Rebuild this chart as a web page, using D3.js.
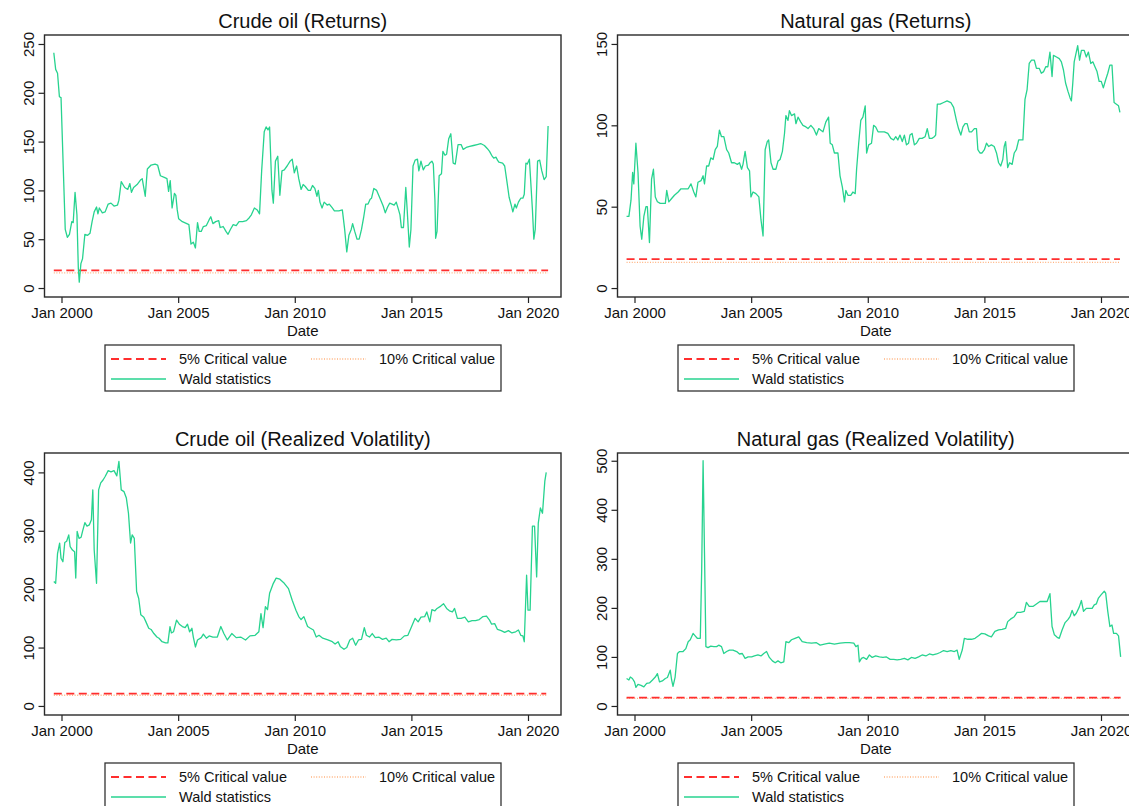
<!DOCTYPE html>
<html>
<head>
<meta charset="utf-8">
<script src="https://cdn.jsdelivr.net/npm/d3@7/dist/d3.min.js"></script>
<style>
  body { margin: 0; background: #fff; }
  svg text { font-family: "Liberation Sans", Arial, Helvetica, sans-serif; fill: #111; }
</style>
</head>
<body>
<svg id="chart" width="1129" height="806"></svg>
<script>
// [decimal year, Wald statistic]
const crudeReturns = [
  [1999.67, 241], [1999.75, 224], [1999.83, 220], [1999.91, 196], [1999.98, 195], [2000.16, 60],
  [2000.25, 52], [2000.34, 55], [2000.44, 68], [2000.50, 67], [2000.58, 98], [2000.66, 75],
  [2000.72, 20], [2000.76, 6], [2000.83, 25], [2000.90, 30], [2001.00, 55], [2001.12, 54],
  [2001.22, 56], [2001.31, 68], [2001.40, 78], [2001.50, 83], [2001.56, 76], [2001.62, 82],
  [2001.75, 77], [2001.87, 78], [2002.00, 86], [2002.12, 87], [2002.25, 84], [2002.40, 85],
  [2002.46, 90], [2002.56, 109], [2002.71, 103], [2002.84, 101], [2002.93, 107], [2003.00, 98],
  [2003.09, 103], [2003.24, 106], [2003.40, 111], [2003.46, 112], [2003.59, 94], [2003.68, 122],
  [2003.84, 126], [2004.01, 127], [2004.12, 126], [2004.24, 115], [2004.43, 113], [2004.52, 112],
  [2004.59, 99], [2004.66, 110], [2004.74, 82], [2004.84, 97], [2004.90, 95], [2004.96, 80],
  [2005.02, 71], [2005.18, 68], [2005.37, 66], [2005.46, 65], [2005.55, 45], [2005.65, 47],
  [2005.74, 41], [2005.83, 67], [2005.90, 58], [2005.99, 58], [2006.08, 63], [2006.21, 64],
  [2006.33, 70], [2006.40, 73], [2006.49, 66], [2006.61, 68], [2006.74, 69], [2006.80, 62],
  [2006.93, 63], [2007.05, 58], [2007.14, 55], [2007.24, 60], [2007.36, 65], [2007.49, 64],
  [2007.61, 68], [2007.77, 68], [2007.93, 69], [2008.05, 72], [2008.14, 75], [2008.27, 82],
  [2008.39, 80], [2008.49, 76], [2008.58, 120], [2008.69, 160], [2008.77, 165], [2008.85, 162],
  [2008.92, 165], [2009.02, 100], [2009.08, 87], [2009.17, 130], [2009.27, 135], [2009.36, 95],
  [2009.45, 120], [2009.55, 121], [2009.67, 125], [2009.80, 130], [2009.89, 132], [2009.98, 118],
  [2010.08, 125], [2010.17, 112], [2010.27, 101], [2010.36, 106], [2010.45, 104], [2010.58, 100],
  [2010.67, 100], [2010.76, 105], [2010.86, 102], [2010.95, 94], [2011.01, 100], [2011.08, 88],
  [2011.17, 82], [2011.26, 88], [2011.39, 85], [2011.48, 86], [2011.61, 82], [2011.70, 79],
  [2011.89, 79], [2012.04, 80], [2012.14, 60], [2012.23, 37], [2012.32, 54], [2012.42, 60],
  [2012.48, 66], [2012.57, 58], [2012.67, 50], [2012.76, 50], [2012.86, 60], [2012.95, 72],
  [2013.04, 86], [2013.14, 86], [2013.23, 91], [2013.29, 92], [2013.39, 102], [2013.51, 100],
  [2013.67, 91], [2013.79, 84], [2013.88, 77], [2013.98, 83], [2014.07, 87], [2014.17, 86],
  [2014.26, 85], [2014.35, 88], [2014.45, 80], [2014.51, 75], [2014.57, 62], [2014.66, 62],
  [2014.76, 103], [2014.82, 80], [2014.91, 42], [2014.98, 60], [2015.07, 125], [2015.16, 131],
  [2015.26, 132], [2015.32, 120], [2015.41, 130], [2015.51, 121], [2015.60, 125], [2015.73, 126],
  [2015.79, 128], [2015.88, 130], [2015.94, 127], [2016.01, 90], [2016.04, 51], [2016.10, 58],
  [2016.19, 115], [2016.29, 117], [2016.35, 140], [2016.44, 136], [2016.51, 137], [2016.60, 153],
  [2016.69, 158], [2016.79, 128], [2016.88, 127], [2017.00, 147], [2017.13, 147], [2017.22, 142],
  [2017.35, 144], [2017.50, 145], [2017.66, 146], [2017.82, 147], [2017.97, 148], [2018.13, 146],
  [2018.25, 143], [2018.35, 140], [2018.44, 136], [2018.53, 133], [2018.63, 134], [2018.69, 131],
  [2018.75, 129], [2018.91, 128], [2019.00, 125], [2019.09, 110], [2019.19, 93], [2019.28, 85],
  [2019.35, 78], [2019.44, 86], [2019.50, 82], [2019.59, 88], [2019.69, 92], [2019.78, 92],
  [2019.84, 96], [2019.91, 128], [2019.97, 127], [2020.06, 132], [2020.19, 80], [2020.25, 50],
  [2020.31, 60], [2020.41, 130], [2020.50, 131], [2020.59, 120], [2020.69, 111], [2020.78, 114],
  [2020.86, 166]
];

const gasReturns = [
  [1999.66, 44], [1999.76, 44], [1999.85, 54], [1999.92, 71], [1999.97, 64], [2000.06, 89],
  [2000.15, 71], [2000.24, 38], [2000.31, 30], [2000.40, 44], [2000.49, 50], [2000.55, 50],
  [2000.64, 28], [2000.73, 67], [2000.81, 73], [2000.89, 56], [2000.98, 53], [2001.10, 52],
  [2001.22, 52], [2001.32, 52], [2001.38, 60], [2001.47, 53], [2001.59, 55], [2001.71, 57],
  [2001.87, 59], [2001.99, 61], [2002.14, 61], [2002.30, 61], [2002.42, 64], [2002.54, 59],
  [2002.63, 56], [2002.72, 65], [2002.85, 66], [2002.94, 69], [2003.00, 64], [2003.09, 75],
  [2003.18, 75], [2003.27, 80], [2003.37, 79], [2003.46, 85], [2003.55, 87], [2003.64, 97],
  [2003.73, 93], [2003.83, 93], [2003.95, 85], [2004.04, 83], [2004.16, 77], [2004.28, 77],
  [2004.41, 76], [2004.50, 77], [2004.59, 73], [2004.65, 76], [2004.74, 84], [2004.84, 74],
  [2004.93, 72], [2004.99, 56], [2005.08, 59], [2005.20, 58], [2005.33, 56], [2005.42, 42],
  [2005.51, 32], [2005.60, 85], [2005.69, 90], [2005.75, 91], [2005.85, 77], [2005.94, 73],
  [2006.06, 73], [2006.15, 78], [2006.24, 79], [2006.34, 84], [2006.43, 95], [2006.49, 106],
  [2006.58, 103], [2006.64, 109], [2006.73, 106], [2006.86, 107], [2006.92, 101], [2007.01, 105],
  [2007.13, 102], [2007.22, 100], [2007.35, 99], [2007.44, 98], [2007.56, 100], [2007.68, 98],
  [2007.80, 94], [2007.90, 98], [2007.99, 97], [2008.08, 96], [2008.20, 102], [2008.32, 105],
  [2008.39, 89], [2008.48, 88], [2008.57, 83], [2008.66, 83], [2008.72, 83], [2008.81, 69],
  [2008.91, 62], [2009.00, 53], [2009.06, 60], [2009.15, 57], [2009.27, 57], [2009.36, 59],
  [2009.46, 58], [2009.52, 73], [2009.61, 89], [2009.70, 103], [2009.79, 105], [2009.89, 112],
  [2009.95, 83], [2010.04, 88], [2010.16, 89], [2010.25, 100], [2010.34, 99], [2010.44, 96],
  [2010.56, 96], [2010.71, 96], [2010.86, 95], [2010.99, 92], [2011.11, 91], [2011.20, 93],
  [2011.29, 91], [2011.38, 94], [2011.48, 90], [2011.57, 94], [2011.66, 88], [2011.75, 89],
  [2011.81, 94], [2011.90, 95], [2012.00, 88], [2012.09, 89], [2012.21, 92], [2012.33, 92],
  [2012.46, 93], [2012.55, 98], [2012.64, 92], [2012.76, 92], [2012.85, 93], [2012.91, 94],
  [2012.98, 113], [2013.10, 113], [2013.25, 114], [2013.40, 115], [2013.56, 114], [2013.68, 111],
  [2013.80, 103], [2013.89, 98], [2013.99, 94], [2014.08, 99], [2014.17, 101], [2014.26, 101],
  [2014.35, 96], [2014.45, 96], [2014.57, 98], [2014.66, 98], [2014.72, 85], [2014.81, 83],
  [2014.90, 83], [2015.00, 85], [2015.09, 89], [2015.18, 87], [2015.30, 88], [2015.42, 87],
  [2015.52, 83], [2015.61, 77], [2015.70, 75], [2015.79, 79], [2015.85, 87], [2015.91, 90],
  [2016.00, 74], [2016.08, 77], [2016.19, 76], [2016.28, 83], [2016.37, 85], [2016.47, 91],
  [2016.56, 91], [2016.65, 91], [2016.74, 116], [2016.83, 122], [2016.92, 138], [2017.02, 140],
  [2017.14, 140], [2017.23, 135], [2017.35, 135], [2017.44, 132], [2017.54, 133], [2017.63, 136],
  [2017.72, 136], [2017.81, 145], [2017.90, 130], [2017.96, 143], [2018.09, 142], [2018.21, 141],
  [2018.30, 139], [2018.39, 134], [2018.48, 126], [2018.58, 121], [2018.67, 117], [2018.73, 115],
  [2018.79, 126], [2018.85, 139], [2018.91, 143], [2019.00, 149], [2019.08, 140], [2019.16, 146],
  [2019.28, 146], [2019.37, 142], [2019.46, 145], [2019.56, 138], [2019.65, 139], [2019.74, 136],
  [2019.83, 133], [2019.92, 127], [2020.01, 127], [2020.10, 123], [2020.20, 128], [2020.29, 132],
  [2020.38, 137], [2020.47, 137], [2020.56, 114], [2020.66, 113], [2020.75, 112], [2020.81, 108]
];

const crudeVolatility = [
  [1999.67, 213], [1999.75, 210], [1999.83, 261], [1999.92, 279], [1999.98, 253], [2000.06, 247],
  [2000.14, 280], [2000.22, 282], [2000.31, 293], [2000.37, 273], [2000.47, 267], [2000.56, 264],
  [2000.61, 219], [2000.67, 299], [2000.75, 287], [2000.84, 289], [2000.90, 299], [2001.00, 314],
  [2001.09, 308], [2001.19, 310], [2001.28, 319], [2001.34, 370], [2001.40, 267], [2001.50, 210],
  [2001.59, 370], [2001.68, 382], [2001.78, 387], [2001.87, 393], [2002.00, 403], [2002.12, 401],
  [2002.25, 403], [2002.37, 394], [2002.46, 419], [2002.56, 370], [2002.68, 367], [2002.78, 356],
  [2002.87, 330], [2002.96, 279], [2003.03, 293], [2003.12, 287], [2003.22, 196], [2003.31, 184],
  [2003.40, 156], [2003.53, 152], [2003.62, 144], [2003.74, 133], [2003.84, 131], [2003.96, 124],
  [2004.09, 118], [2004.18, 116], [2004.31, 110], [2004.46, 108], [2004.56, 108], [2004.65, 136],
  [2004.71, 125], [2004.80, 127], [2004.93, 147], [2005.05, 140], [2005.18, 136], [2005.30, 134],
  [2005.40, 140], [2005.49, 127], [2005.59, 133], [2005.65, 118], [2005.74, 101], [2005.83, 113],
  [2005.99, 117], [2006.08, 123], [2006.21, 116], [2006.33, 120], [2006.49, 118], [2006.68, 118],
  [2006.83, 136], [2006.96, 124], [2007.11, 113], [2007.30, 124], [2007.49, 117], [2007.68, 118],
  [2007.89, 113], [2008.08, 120], [2008.30, 121], [2008.46, 127], [2008.55, 158], [2008.64, 134],
  [2008.74, 170], [2008.83, 165], [2008.92, 193], [2009.08, 210], [2009.20, 219], [2009.36, 217],
  [2009.55, 210], [2009.73, 201], [2009.89, 181], [2010.05, 164], [2010.17, 153], [2010.27, 148],
  [2010.39, 153], [2010.55, 136], [2010.67, 133], [2010.80, 130], [2010.92, 118], [2011.04, 121],
  [2011.20, 116], [2011.42, 113], [2011.61, 110], [2011.73, 106], [2011.86, 110], [2011.95, 102],
  [2012.11, 97], [2012.23, 100], [2012.36, 113], [2012.48, 116], [2012.61, 104], [2012.73, 113],
  [2012.86, 114], [2012.98, 134], [2013.07, 121], [2013.20, 118], [2013.32, 124], [2013.45, 117],
  [2013.60, 118], [2013.76, 114], [2013.92, 116], [2014.04, 110], [2014.17, 114], [2014.35, 113],
  [2014.54, 114], [2014.70, 120], [2014.85, 121], [2015.01, 136], [2015.16, 150], [2015.29, 144],
  [2015.41, 152], [2015.57, 153], [2015.66, 161], [2015.79, 144], [2015.88, 165], [2016.01, 163],
  [2016.10, 167], [2016.26, 171], [2016.38, 175], [2016.51, 167], [2016.63, 163], [2016.76, 161],
  [2016.85, 167], [2016.97, 150], [2017.13, 150], [2017.29, 152], [2017.44, 144], [2017.60, 146],
  [2017.75, 146], [2017.91, 148], [2018.07, 153], [2018.22, 154], [2018.35, 147], [2018.44, 140],
  [2018.57, 141], [2018.69, 131], [2018.85, 129], [2019.00, 126], [2019.16, 129], [2019.31, 125],
  [2019.47, 127], [2019.59, 130], [2019.69, 121], [2019.78, 120], [2019.84, 110], [2019.94, 224],
  [2020.00, 164], [2020.09, 164], [2020.19, 308], [2020.28, 308], [2020.37, 221], [2020.44, 313],
  [2020.53, 339], [2020.62, 330], [2020.72, 385], [2020.78, 400]
];

const gasVolatility = [
  [1999.66, 56], [1999.76, 53], [1999.82, 59], [1999.91, 56], [2000.00, 49], [2000.06, 38],
  [2000.15, 44], [2000.28, 42], [2000.40, 39], [2000.52, 46], [2000.64, 47], [2000.77, 53],
  [2000.89, 59], [2000.98, 66], [2001.07, 49], [2001.19, 51], [2001.32, 56], [2001.41, 58],
  [2001.53, 73], [2001.59, 53], [2001.65, 40], [2001.74, 59], [2001.84, 107], [2001.93, 111],
  [2002.08, 111], [2002.20, 117], [2002.30, 131], [2002.39, 135], [2002.51, 148], [2002.60, 143],
  [2002.69, 138], [2002.82, 138], [2002.88, 278], [2002.94, 500], [2003.00, 312], [2003.06, 121],
  [2003.15, 119], [2003.27, 122], [2003.40, 121], [2003.52, 121], [2003.61, 124], [2003.73, 121],
  [2003.83, 107], [2003.95, 111], [2004.07, 114], [2004.22, 114], [2004.38, 111], [2004.50, 106],
  [2004.62, 107], [2004.74, 97], [2004.87, 100], [2005.02, 100], [2005.14, 102], [2005.29, 104],
  [2005.42, 102], [2005.54, 107], [2005.66, 111], [2005.78, 99], [2005.91, 92], [2006.03, 88],
  [2006.15, 92], [2006.27, 88], [2006.40, 90], [2006.49, 131], [2006.61, 129], [2006.73, 135],
  [2006.88, 138], [2007.04, 141], [2007.19, 131], [2007.38, 129], [2007.59, 128], [2007.80, 129],
  [2007.96, 124], [2008.14, 126], [2008.35, 128], [2008.57, 126], [2008.81, 128], [2009.03, 129],
  [2009.21, 129], [2009.40, 128], [2009.49, 121], [2009.58, 124], [2009.64, 90], [2009.73, 97],
  [2009.82, 99], [2009.95, 95], [2010.07, 104], [2010.19, 99], [2010.34, 102], [2010.50, 100],
  [2010.65, 99], [2010.80, 100], [2010.96, 95], [2011.11, 95], [2011.26, 94], [2011.41, 95],
  [2011.57, 97], [2011.72, 94], [2011.87, 99], [2012.03, 97], [2012.18, 100], [2012.33, 104],
  [2012.49, 102], [2012.64, 106], [2012.79, 104], [2012.95, 106], [2013.10, 109], [2013.25, 113],
  [2013.40, 111], [2013.56, 113], [2013.71, 111], [2013.83, 114], [2013.92, 95], [2014.05, 114],
  [2014.14, 138], [2014.29, 136], [2014.45, 136], [2014.60, 138], [2014.75, 143], [2014.87, 148],
  [2015.02, 147], [2015.18, 143], [2015.30, 141], [2015.45, 152], [2015.61, 155], [2015.76, 156],
  [2015.91, 158], [2016.00, 172], [2016.12, 177], [2016.28, 182], [2016.40, 191], [2016.55, 191],
  [2016.71, 193], [2016.80, 211], [2016.92, 203], [2017.08, 203], [2017.23, 208], [2017.38, 213],
  [2017.54, 213], [2017.69, 213], [2017.81, 229], [2017.90, 162], [2018.00, 145], [2018.12, 140],
  [2018.21, 138], [2018.33, 155], [2018.46, 170], [2018.58, 176], [2018.67, 182], [2018.76, 195],
  [2018.85, 184], [2018.94, 189], [2019.07, 202], [2019.16, 215], [2019.25, 193], [2019.37, 199],
  [2019.50, 199], [2019.62, 199], [2019.71, 206], [2019.80, 208], [2019.89, 220], [2020.01, 227],
  [2020.14, 234], [2020.20, 230], [2020.29, 193], [2020.38, 162], [2020.47, 165], [2020.54, 148],
  [2020.66, 148], [2020.75, 143], [2020.84, 100]
];

const titles = ["Crude oil (Returns)", "Natural gas (Returns)", "Crude oil (Realized Volatility)", "Natural gas (Realized Volatility)"];
const critical5 = [18, 17.8, 21, 17.2];
const critical10 = [15.5, 15.8, 18.3, 15.3];
const yTickValues = [
  [0, 50, 100, 150, 200, 250],
  [0, 50, 100, 150],
  [0, 100, 200, 300, 400],
  [0, 100, 200, 300, 400, 500]
];
const yDomains = [[-9.2, 259.2], [-5.5, 155.5], [-15.5, 433.2], [-18.4, 515.8]];
const xTickYears = [2000, 2005, 2010, 2015, 2020];
const legendLabels = ["5% Critical value", "10% Critical value", "Wald statistics"];

const GREEN = '#27d38f', RED = '#ff2e2e', ORANGE = '#ffb27e';

const svg = d3.select('#chart');
svg.append('rect').attr('width', 1129).attr('height', 806).attr('fill', '#fff');

const series = [crudeReturns, gasReturns, crudeVolatility, gasVolatility];
const origins = [[0, 0], [573, 0], [0, 418], [573, 418]];

const box = { left: 44.5, right: 561, top: 35, bottom: 297 };

function toDate(y) {
  const year = Math.floor(y);
  const start = new Date(year, 0, 1), end = new Date(year + 1, 0, 1);
  return new Date(+start + (y - year) * (end - start));
}

series.forEach((data, i) => {
  const [ox, oy] = origins[i];
  const g = svg.append('g').attr('transform', `translate(${ox},${oy})`);

  const x = d3.scaleTime()
    .domain([new Date(2000, 0, 1), new Date(2020, 0, 1)])
    .range([61.5, 528]);
  const y = d3.scaleLinear()
    .domain(yDomains[i])
    .range([box.bottom, box.top]);

  g.append('text')
    .attr('x', (box.left + box.right) / 2)
    .attr('y', 28)
    .attr('text-anchor', 'middle')
    .style('font-size', '20px')
    .text(titles[i]);

  // y axis
  const yAxis = d3.axisLeft(y)
    .tickValues(yTickValues[i])
    .tickSize(6)
    .tickSizeOuter(0)
    .tickFormat(d3.format('d'));
  const ya = g.append('g')
    .attr('transform', `translate(${box.left},0)`)
    .call(yAxis);
  ya.select('.domain').remove();
  ya.selectAll('.tick line').attr('stroke', '#222').attr('stroke-width', 1.2);
  ya.selectAll('.tick text')
    .attr('x', 0).attr('dy', 0)
    .attr('transform', 'translate(-11,0) rotate(-90)')
    .attr('text-anchor', 'middle')
    .style('font-size', '15px');

  // x axis
  const xAxis = d3.axisBottom(x)
    .tickValues(xTickYears.map(yr => new Date(yr, 0, 1)))
    .tickSize(6)
    .tickSizeOuter(0)
    .tickPadding(4)
    .tickFormat(d3.timeFormat('%b %Y'));
  const xa = g.append('g')
    .attr('transform', `translate(0,${box.bottom})`)
    .call(xAxis);
  xa.select('.domain').remove();
  xa.selectAll('.tick line').attr('stroke', '#222').attr('stroke-width', 1.2);
  xa.selectAll('.tick text').style('font-size', '15px');

  g.append('text')
    .attr('x', (box.left + box.right) / 2)
    .attr('y', 336)
    .attr('text-anchor', 'middle')
    .style('font-size', '15px')
    .text('Date');

  const first = toDate(data[0][0]), last = toDate(data[data.length - 1][0]);

  // critical values
  g.append('line')
    .attr('x1', x(first)).attr('x2', x(last))
    .attr('y1', y(critical10[i])).attr('y2', y(critical10[i]))
    .attr('stroke', ORANGE).attr('stroke-width', 1.3)
    .attr('stroke-dasharray', '1,1.6');
  g.append('line')
    .attr('x1', x(first)).attr('x2', x(last))
    .attr('y1', y(critical5[i])).attr('y2', y(critical5[i]))
    .attr('stroke', RED).attr('stroke-width', 1.8)
    .attr('stroke-dasharray', '8,4.5');

  const line = d3.line()
    .x(d => x(toDate(d[0])))
    .y(d => y(d[1]));
  g.append('path')
    .datum(data)
    .attr('fill', 'none')
    .attr('stroke', GREEN)
    .attr('stroke-width', 1.3)
    .attr('stroke-linejoin', 'round')
    .attr('d', line);

  g.append('rect')
    .attr('x', box.left).attr('y', box.top)
    .attr('width', box.right - box.left).attr('height', box.bottom - box.top)
    .attr('fill', 'none').attr('stroke', '#2a2a2a').attr('stroke-width', 1.4);

  // legend
  const lg = g.append('g');
  lg.append('rect')
    .attr('x', 105).attr('y', 345).attr('width', 396).attr('height', 46)
    .attr('fill', '#fff').attr('stroke', '#333').attr('stroke-width', 1.3);
  const items = [
    { label: legendLabels[0], x: 111, y: 359, stroke: RED, dash: '8,4.5', w: 1.8 },
    { label: legendLabels[1], x: 311, y: 359, stroke: ORANGE, dash: '1,1.6', w: 1.3 },
    { label: legendLabels[2], x: 111, y: 379, stroke: GREEN, dash: null, w: 1.6 }
  ];
  items.forEach(it => {
    lg.append('line')
      .attr('x1', it.x).attr('x2', it.x + 55)
      .attr('y1', it.y).attr('y2', it.y)
      .attr('stroke', it.stroke).attr('stroke-width', it.w)
      .attr('stroke-dasharray', it.dash);
    lg.append('text')
      .attr('x', it.x + 68).attr('y', it.y + 5)
      .style('font-size', '14.5px')
      .text(it.label);
  });
});
</script>
</body>
</html>
